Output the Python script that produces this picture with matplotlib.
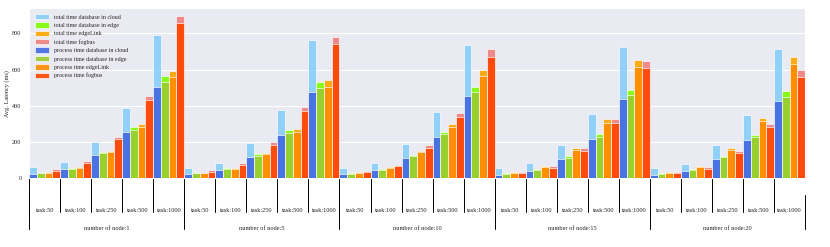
import numpy as np
import matplotlib
matplotlib.use("Agg")
import matplotlib.pyplot as plt
import seaborn as sns

nodes = ["number of node:1", "number of node:5", "number of node:10",
         "number of node:15", "number of node:20"]
tasks = ["task:50", "task:100", "task:250", "task:500", "task:1000"]

total_cloud = [[61, 88, 200, 390, 792], [57, 85, 195, 375, 761], [57, 83, 189, 364, 735],
               [55, 83, 184, 355, 722], [55, 81, 184, 349, 711]]
total_edge = [[31, 57, 145, 283, 564], [31, 55, 136, 267, 531], [29, 51, 129, 255, 502],
              [28, 51, 123, 244, 489], [28, 50, 125, 241, 482]]
total_edgelink = [[35, 62, 151, 300, 592], [31, 57, 140, 274, 542], [33, 62, 151, 300, 597],
                  [35, 68, 167, 327, 653], [35, 70, 169, 335, 669]]
total_fogbus = [[51, 94, 230, 452, 895], [44, 83, 200, 393, 778], [39, 74, 182, 358, 711],
                [35, 68, 167, 327, 647], [35, 62, 151, 301, 599]]
proc_cloud = [[26, 50, 129, 254, 505], [22, 48, 119, 239, 474], [22, 46, 112, 228, 452],
              [18, 42, 108, 219, 437], [18, 40, 105, 211, 425]]
proc_edge = [[28, 53, 140, 267, 533], [28, 51, 125, 250, 500], [26, 48, 121, 243, 474],
             [24, 46, 114, 228, 458], [24, 46, 116, 226, 450]]
proc_edgelink = [[29, 59, 147, 281, 557], [28, 53, 132, 255, 505], [28, 59, 143, 281, 562],
                 [29, 62, 158, 307, 616], [29, 64, 158, 316, 632]]
proc_fogbus = [[42, 86, 215, 434, 855], [37, 75, 186, 371, 739], [33, 66, 169, 340, 671],
               [28, 59, 151, 305, 608], [28, 53, 140, 281, 561]]

series = [
    ("total time database in cloud", total_cloud, "lightskyblue"),
    ("total time database in edge", total_edge, "lawngreen"),
    ("total time edgeLink", total_edgelink, "orange"),
    ("total time fogbus", total_fogbus, "lightcoral"),
    ("process time database in cloud", proc_cloud, "royalblue"),
    ("process time database in edge", proc_edge, "yellowgreen"),
    ("process time edgeLink", proc_edgelink, "darkorange"),
    ("process time fogbus", proc_fogbus, "orangered"),
]

sns.set_style("darkgrid")
plt.rcParams['font.family'] = ['Liberation Serif', 'DejaVu Serif']

fig = plt.figure(figsize=(8.3, 2.47), dpi=100)
ax = fig.add_axes([0.035, 0.278, 0.935, 0.690])

n = len(nodes) * len(tasks)
x = np.arange(n)
offsets = [-0.375, -0.125, 0.125, 0.375]
width = 0.25
for i, (label, vals, color) in enumerate(series):
    v = np.array(vals).ravel()
    ax.bar(x + offsets[i % 4], v, width=width, color=color, label=label,
           alpha=0.9, edgecolor="white", linewidth=0.5, zorder=2 + i // 4)

ax.set_xlim(-0.5, n - 0.5)
ax.set_xticks([])
ax.set_yticks([0, 200, 400, 600, 800])
ax.tick_params(axis='y', labelsize=4.5, pad=2)
ax.set_ylabel("Avg. Latency (ms)", fontsize=4.5, labelpad=1.5)
ax.legend(loc="upper left", fontsize=4.3, frameon=False, handlelength=2.3,
          handleheight=1.0, labelspacing=0.45, borderaxespad=0.6)

# multi-level x labels
scale = 1.0 / n
def vline(xpos, y0, y1):
    ln = plt.Line2D([xpos, xpos], [y0, y1], transform=ax.transAxes,
                    color="black", linewidth=0.7)
    ln.set_clip_on(False)
    ax.add_line(ln)

pos = 0
for g in range(len(nodes)):
    for t in range(len(tasks)):
        ax.text((pos + 0.5) * scale, -0.186, tasks[t], ha="center", va="center",
                fontsize=4.6, transform=ax.transAxes)
        vline(pos * scale, 0, -0.2)
        pos += 1
pos = 0
for g in range(len(nodes)):
    ax.text((pos + 2.5) * scale, -0.292, nodes[g], ha="center", va="center",
            fontsize=4.6, transform=ax.transAxes)
    vline(pos * scale, -0.1, -0.3)
    pos += len(tasks)
vline(pos * scale, -0.1, -0.3)

fig.savefig("out.png", dpi=100)
